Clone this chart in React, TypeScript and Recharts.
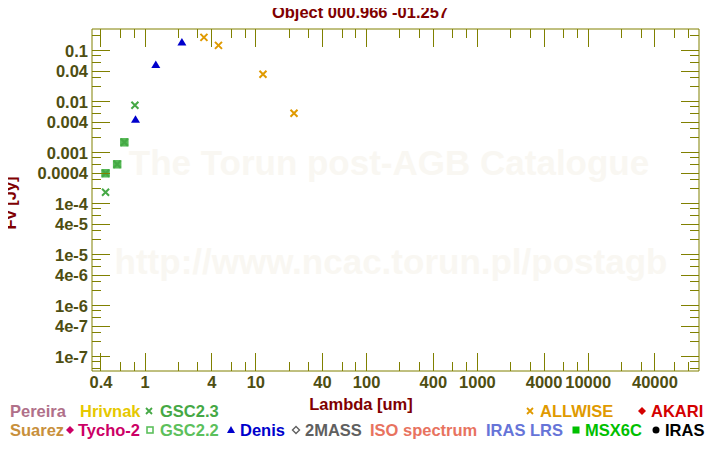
import React from 'react';
import { ScatterChart, Scatter, XAxis, YAxis } from 'recharts';

const TITLE = 'Object 000.966 -01.257';
const X_LABEL = 'Lambda [um]';
const Y_LABEL = 'Fv [Jy]';
const WATERMARK_1 = 'The Torun post-AGB Catalogue';
const WATERMARK_2 = 'http://www.ncac.torun.pl/postagb';

const X_DOMAIN: [number, number] = [0.332, 100000];
const Y_DOMAIN: [number, number] = [5.3e-8, 0.27];

const X_MAJOR = [0.4, 1, 4, 10, 40, 100, 400, 1000, 4000, 10000, 40000];
const X_MAJOR_LABELS = ['0.4', '1', '4', '10', '40', '100', '400', '1000', '4000', '10000', '40000'];
const X_MINOR = [0.6, 0.8, 2, 3, 6, 8, 20, 30, 60, 80, 200, 300, 600, 800, 2000, 3000, 6000, 8000, 20000, 30000, 60000, 80000];

const Y_MAJOR = [0.1, 0.04, 0.01, 0.004, 0.001, 0.0004, 1e-4, 4e-5, 1e-5, 4e-6, 1e-6, 4e-7, 1e-7];
const Y_MAJOR_LABELS = ['0.1', '0.04', '0.01', '0.004', '0.001', '0.0004', '1e-4', '4e-5', '1e-5', '4e-6', '1e-6', '4e-7', '1e-7'];
const Y_MINOR = [
  0.2, 0.08, 0.06, 0.03, 0.02,
  0.008, 0.006, 0.003, 0.002,
  8e-4, 6e-4, 3e-4, 2e-4,
  8e-5, 6e-5, 3e-5, 2e-5,
  8e-6, 6e-6, 3e-6, 2e-6,
  8e-7, 6e-7, 3e-7, 2e-7,
  8e-8, 6e-8,
];

// Series (wavelength in um, flux in Jy)
const GSC22_LAMBDA = [0.44, 0.56, 0.65];
const GSC22_FLUX = [4.0e-4, 6.0e-4, 1.62e-3];
const GSC23_LAMBDA = [0.44, 0.44, 0.56, 0.65, 0.81];
const GSC23_FLUX = [1.7e-4, 4.0e-4, 6.0e-4, 1.62e-3, 8.6e-3];
const DENIS_LAMBDA = [0.82, 1.25, 2.15];
const DENIS_FLUX = [0.0045, 0.0531, 0.146];
const ALLWISE_LAMBDA = [3.4, 4.6, 11.6, 22.1];
const ALLWISE_FLUX = [0.185, 0.129, 0.0349, 0.006];

const LEGEND_NAMES = ['Pereira', 'Hrivnak', 'GSC2.3', 'ALLWISE', 'AKARI', 'Suarez', 'Tycho-2', 'GSC2.2', 'Denis', '2MASS', 'ISO spectrum', 'IRAS LRS', 'MSX6C', 'IRAS'];
const LEGEND_COLORS = ['#b07089', '#e6c800', '#45a845', '#e09a00', '#d40000', '#c8903c', '#cc0066', '#5cc05c', '#0000cc', '#606060', '#e8735f', '#6674d8', '#00c000', '#000000'];
const LEGEND_SYMBOLS = ['none', 'none', 'cross', 'cross', 'diamond', 'none', 'diamond', 'square', 'triangle', 'odiamond', 'none', 'none', 'fsquare', 'circle'];

const OLIVE = '#808000';
const TICK_TEXT = '#4e4e12';
const DARK_RED = '#800000';
const FONT = '"Liberation Sans", Arial, sans-serif';

const zip = (xs: number[], ys: number[]) => xs.map((x, i) => ({ x, y: ys[i] }));

const findLabel = (v: number, majors: number[], labels: string[]) => {
  const i = majors.findIndex((m) => Math.abs(Math.log10(m) - Math.log10(v)) < 1e-6);
  return i >= 0 ? labels[i] : null;
};

const BottomTick = (p: any) => {
  const { x, y, payload } = p;
  const lab = findLabel(payload.value, X_MAJOR, X_MAJOR_LABELS);
  return (
    <g>
      <line x1={x} x2={x} y1={y} y2={y - (lab ? 18 : 9)} stroke={OLIVE} shapeRendering="crispEdges" />
      {lab && (
        <text x={x} y={y + 17} textAnchor="middle" fill={TICK_TEXT} fontFamily={FONT} fontWeight="bold" fontSize={16.5}>
          {lab}
        </text>
      )}
    </g>
  );
};

const TopTick = (p: any) => {
  const { x, y, payload } = p;
  const lab = findLabel(payload.value, X_MAJOR, X_MAJOR_LABELS);
  return <line x1={x} x2={x} y1={y} y2={y + (lab ? 18 : 9)} stroke={OLIVE} shapeRendering="crispEdges" />;
};

const LeftTick = (p: any) => {
  const { x, y, payload } = p;
  const lab = findLabel(payload.value, Y_MAJOR, Y_MAJOR_LABELS);
  return (
    <g>
      <line x1={x} x2={x + (lab ? 18 : 9)} y1={y} y2={y} stroke={OLIVE} shapeRendering="crispEdges" />
      {lab && (
        <text x={x - 4} y={y + 6} textAnchor="end" fill={TICK_TEXT} fontFamily={FONT} fontWeight="bold" fontSize={16.5}>
          {lab}
        </text>
      )}
    </g>
  );
};

const RightTick = (p: any) => {
  const { x, y, payload } = p;
  const lab = findLabel(payload.value, Y_MAJOR, Y_MAJOR_LABELS);
  return <line x1={x} x2={x - (lab ? 18 : 9)} y1={y} y2={y} stroke={OLIVE} shapeRendering="crispEdges" />;
};

const crossShape = (color: string) => (p: any) => {
  const { cx, cy } = p;
  const r = 3.5;
  return (
    <path
      d={`M${cx - r},${cy - r}L${cx + r},${cy + r}M${cx - r},${cy + r}L${cx + r},${cy - r}`}
      stroke={color}
      strokeWidth={2}
      fill="none"
    />
  );
};

const squareShape = (color: string) => (p: any) => {
  const { cx, cy } = p;
  return <rect x={cx - 3.5} y={cy - 3.5} width={7} height={7} fill={color} stroke={color} strokeWidth={1.5} />;
};

const triangleShape = (color: string) => (p: any) => {
  const { cx, cy } = p;
  return <polygon points={`${cx},${cy - 4.5} ${cx - 4.5},${cy + 3} ${cx + 4.5},${cy + 3}`} fill={color} />;
};

const LegendSymbol = ({ kind, x, y, color }: { kind: string; x: number; y: number; color: string }) => {
  switch (kind) {
    case 'cross':
      return <path d={`M${x - 3},${y - 3}L${x + 3},${y + 3}M${x - 3},${y + 3}L${x + 3},${y - 3}`} stroke={color} strokeWidth={1.8} />;
    case 'diamond':
      return <polygon points={`${x},${y - 4} ${x + 4},${y} ${x},${y + 4} ${x - 4},${y}`} fill={color} />;
    case 'odiamond':
      return <polygon points={`${x},${y - 3.5} ${x + 3.5},${y} ${x},${y + 3.5} ${x - 3.5},${y}`} fill="none" stroke={color} strokeWidth={1.4} />;
    case 'square':
      return <rect x={x - 3} y={y - 3} width={6} height={6} fill="none" stroke={color} strokeWidth={1.6} />;
    case 'fsquare':
      return <rect x={x - 3.5} y={y - 3.5} width={7} height={7} fill={color} />;
    case 'triangle':
      return <polygon points={`${x},${y - 4} ${x - 4},${y + 3} ${x + 4},${y + 3}`} fill={color} />;
    case 'circle':
      return <circle cx={x} cy={y} r={3.5} fill={color} />;
    default:
      return null;
  }
};

// legend layout: [symbol x, text x, row]
const LEGEND_LAYOUT: [number, number, number][] = [
  [0, 10, 0], [0, 80, 0], [149, 160, 0], [530, 540, 0], [642, 651, 0],
  [0, 10, 1], [70, 78, 1], [150, 160, 1], [231, 240, 1], [296, 305, 1], [0, 370, 1], [0, 486, 1], [576, 585, 1], [656, 665, 1],
];
const ROW_CENTER = [411, 430];

export default function App() {
  return (
    <div style={{ position: 'relative', width: 720, height: 450, margin: -8, background: '#fff', overflow: 'hidden' }}>
      <svg width={720} height={450} style={{ position: 'absolute', left: 0, top: 0 }}>
        <g fontFamily={FONT} fontWeight="bold">
          <text x={389} y={175} textAnchor="middle" fontSize={35} fill="#f9f7f2">{WATERMARK_1}</text>
          <text x={391} y={274} textAnchor="middle" fontSize={35} fill="#f9f7f2">{WATERMARK_2}</text>
          <text x={360} y={18} textAnchor="middle" fontSize={16.5} fill={DARK_RED}>{TITLE}</text>
          <text x={361} y={410} textAnchor="middle" fontSize={16.5} fill={DARK_RED}>{X_LABEL}</text>
          <text transform="translate(16,203) rotate(-90)" textAnchor="middle" fontSize={16.5} fill={DARK_RED}>{Y_LABEL}</text>
          {LEGEND_NAMES.map((name, i) => {
            const [sx, tx, row] = LEGEND_LAYOUT[i];
            const cy = ROW_CENTER[row];
            return (
              <g key={name}>
                <LegendSymbol kind={LEGEND_SYMBOLS[i]} x={sx} y={cy} color={LEGEND_COLORS[i]} />
                <text x={tx} y={cy + 6} fontSize={16.5} fill={LEGEND_COLORS[i]}>{name}</text>
              </g>
            );
          })}
        </g>
      </svg>
      <div style={{ position: 'absolute', left: 0, top: 0 }}>
        <ScatterChart width={720} height={450} margin={{ top: 0, right: 0, bottom: 0, left: 0 }}>
          <XAxis
            xAxisId="b"
            dataKey="x"
            type="number"
            scale="log"
            domain={X_DOMAIN}
            allowDataOverflow
            orientation="bottom"
            height={79}
            ticks={[...X_MAJOR, ...X_MINOR]}
            interval={0}
            tickSize={0}
            tickMargin={0}
            tick={BottomTick}
            axisLine={{ stroke: OLIVE }}
          />
          <XAxis
            xAxisId="t"
            dataKey="x"
            type="number"
            scale="log"
            domain={X_DOMAIN}
            allowDataOverflow
            orientation="top"
            height={29}
            ticks={[...X_MAJOR, ...X_MINOR]}
            interval={0}
            tickSize={0}
            tickMargin={0}
            tick={TopTick}
            axisLine={{ stroke: OLIVE }}
          />
          <YAxis
            yAxisId="l"
            dataKey="y"
            type="number"
            scale="log"
            domain={Y_DOMAIN}
            allowDataOverflow
            orientation="left"
            width={92}
            ticks={[...Y_MAJOR, ...Y_MINOR]}
            interval={0}
            tickSize={0}
            tickMargin={0}
            tick={LeftTick}
            axisLine={{ stroke: OLIVE }}
          />
          <YAxis
            yAxisId="r"
            dataKey="y"
            type="number"
            scale="log"
            domain={Y_DOMAIN}
            allowDataOverflow
            orientation="right"
            width={21}
            ticks={[...Y_MAJOR, ...Y_MINOR]}
            interval={0}
            tickSize={0}
            tickMargin={0}
            tick={RightTick}
            axisLine={{ stroke: OLIVE }}
          />
          <Scatter name="GSC2.2" xAxisId="b" yAxisId="l" data={zip(GSC22_LAMBDA, GSC22_FLUX)} shape={squareShape('#55b955')} isAnimationActive={false} />
          <Scatter name="GSC2.3" xAxisId="b" yAxisId="l" data={zip(GSC23_LAMBDA, GSC23_FLUX)} shape={crossShape('#45a845')} isAnimationActive={false} />
          <Scatter name="Denis" xAxisId="b" yAxisId="l" data={zip(DENIS_LAMBDA, DENIS_FLUX)} shape={triangleShape('#0000cc')} isAnimationActive={false} />
          <Scatter name="ALLWISE" xAxisId="b" yAxisId="l" data={zip(ALLWISE_LAMBDA, ALLWISE_FLUX)} shape={crossShape('#e09a00')} isAnimationActive={false} />
          <Scatter name="frame" xAxisId="t" yAxisId="r" data={[]} isAnimationActive={false} />
        </ScatterChart>
      </div>
    </div>
  );
}
